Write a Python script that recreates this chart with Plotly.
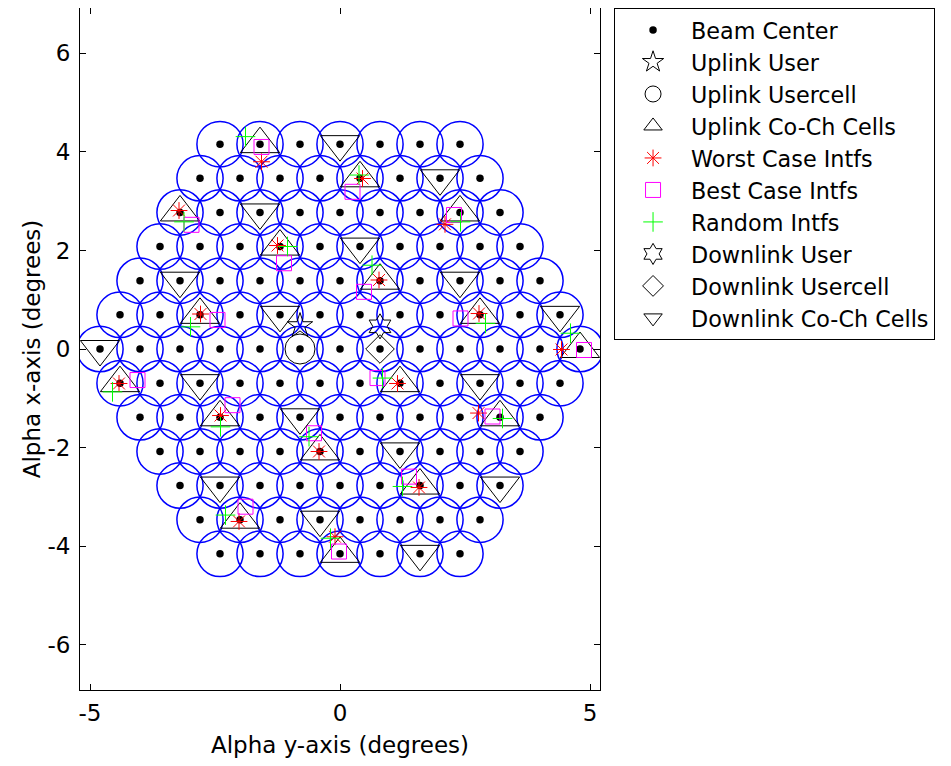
import plotly.graph_objects as go

# ---------------- data ----------------
# beam-centre rows (vertical position) and the horizontal positions in each row
beam_row_y = [4.157, 3.464, 2.771, 2.078, 1.386, 0.693, 0.0,
              -0.693, -1.386, -2.078, -2.771, -3.464, -4.157]
beam_row_x = [
    [-2.4, -1.6, -0.8, 0.0, 0.8, 1.6, 2.4],
    [-2.8, -2.0, -1.2, -0.4, 0.4, 1.2, 2.0, 2.8],
    [-3.2, -2.4, -1.6, -0.8, 0.0, 0.8, 1.6, 2.4, 3.2],
    [-3.6, -2.8, -2.0, -1.2, -0.4, 0.4, 1.2, 2.0, 2.8, 3.6],
    [-4.0, -3.2, -2.4, -1.6, -0.8, 0.0, 0.8, 1.6, 2.4, 3.2, 4.0],
    [-4.4, -3.6, -2.8, -2.0, -1.2, -0.4, 0.4, 1.2, 2.0, 2.8, 3.6, 4.4],
    [-4.8, -4.0, -3.2, -2.4, -1.6, -0.8, 0.0, 0.8, 1.6, 2.4, 3.2, 4.0, 4.8],
    [-4.4, -3.6, -2.8, -2.0, -1.2, -0.4, 0.4, 1.2, 2.0, 2.8, 3.6, 4.4],
    [-4.0, -3.2, -2.4, -1.6, -0.8, 0.0, 0.8, 1.6, 2.4, 3.2, 4.0],
    [-3.6, -2.8, -2.0, -1.2, -0.4, 0.4, 1.2, 2.0, 2.8, 3.6],
    [-3.2, -2.4, -1.6, -0.8, 0.0, 0.8, 1.6, 2.4, 3.2],
    [-2.8, -2.0, -1.2, -0.4, 0.4, 1.2, 2.0, 2.8],
    [-2.4, -1.6, -0.8, 0.0, 0.8, 1.6, 2.4],
]
beam_radius = 0.4619

x_tick_vals = [-5, 0, 5]
x_tick_text = ["-5", "0", "5"]
y_tick_vals = [-6, -4, -2, 0, 2, 4, 6]
y_tick_text = ["-6", "-4", "-2", "0", "2", "4", "6"]

uplink_user_x, uplink_user_y = [-0.8], [0.47]
uplink_cell_x, uplink_cell_y = [-0.8], [0.0]
downlink_user_x, downlink_user_y = [0.8], [0.46]
downlink_cell_x, downlink_cell_y = [0.8], [0.0]

up_cochan_x = [-1.6, 0.4, 2.4, -3.2, -1.2, 0.8, -2.8, 2.8, 4.8,
               -4.4, 1.2, -2.4, 3.2, -0.4, 1.6, -2.0, 0.0]
up_cochan_y = [4.157, 3.464, 2.771, 2.771, 2.078, 1.386, 0.693, 0.693, 0.0,
               -0.693, -0.693, -1.386, -1.386, -2.078, -2.771, -3.464, -4.157]

dn_cochan_x = [0.0, 2.0, -1.6, 0.4, -3.2, 2.4, -1.2, 4.4, -4.8,
               -2.8, 2.8, -0.8, 1.2, -2.4, 3.2, -0.4, 1.6]
dn_cochan_y = [4.157, 3.464, 2.771, 2.078, 1.386, 1.386, 0.693, 0.693, 0.0,
               -0.693, -0.693, -1.386, -2.078, -2.771, -2.771, -3.464, -4.157]

worst_x = [-1.57, 0.45, 2.10, -3.22, -1.25, 0.78, -2.79, 2.78, 4.43,
           -4.42, 1.15, -2.39, 2.77, -0.42, 1.58, -2.02, -0.10]
worst_y = [3.80, 3.46, 2.53, 2.81, 2.10, 1.40, 0.71, 0.72, -0.01,
           -0.70, -0.70, -1.35, -1.30, -2.08, -2.81, -3.50, -3.81]

best_x = [-1.57, 0.25, 2.28, -2.97, -1.12, 0.48, -2.45, 2.41, 4.88,
          -4.05, 0.75, -2.15, 3.05, -0.52, 1.38, -1.89, -0.02]
best_y = [4.10, 3.19, 2.72, 2.52, 1.74, 1.16, 0.59, 0.62, -0.02,
          -0.63, -0.59, -1.14, -1.37, -1.71, -2.59, -3.20, -4.11]

random_x = [-1.89, 0.38, 2.41, -3.12, -1.05, 0.64, -2.99, 2.91, 4.61,
            -4.55, 0.85, -2.39, 3.25, -0.62, 1.25, -2.29, -0.19]
random_y = [4.31, 3.53, 2.58, 2.58, 2.08, 1.70, 0.45, 0.52, 0.32,
            -0.87, -0.59, -1.58, -1.41, -1.78, -2.79, -3.37, -3.84]

# ---------------- figure ----------------
beam_x, beam_y = [], []
for ry, xs in zip(beam_row_y, beam_row_x):
    for bx in xs:
        beam_x.append(bx)
        beam_y.append(ry)

fig = go.Figure()

shapes = []
for bx, by in zip(beam_x, beam_y):
    shapes.append(dict(type="circle", xref="x", yref="y",
                       x0=bx - beam_radius, x1=bx + beam_radius,
                       y0=by - beam_radius, y1=by + beam_radius,
                       line=dict(color="#0000ff", width=1.5), layer="below"))


def add(name, x, y, symbol, size, color, lw=1):
    fig.add_trace(go.Scatter(
        x=x, y=y, mode="markers", name=name,
        marker=dict(symbol=symbol, size=size, color=color,
                    line=dict(color=color, width=lw)),
        hoverinfo="skip"))


add("Beam Center", beam_x, beam_y, "circle", 7.5, "black", 0)
add("Uplink User", uplink_user_x, uplink_user_y, "star-open", 19, "black")
add("Uplink Usercell", uplink_cell_x, uplink_cell_y, "circle-open", 30, "black")
add("Uplink Co-Ch Cells", up_cochan_x, up_cochan_y, "triangle-up-open", 34, "black")
add("Worst Case Intfs", worst_x, worst_y, "asterisk-open", 14, "#ff0000")
add("Best Case Intfs", best_x, best_y, "square-open", 15, "#ff00ff")
add("Random Intfs", random_x, random_y, "cross-thin-open", 14, "#00ff00")
add("Downlink User", downlink_user_x, downlink_user_y, "hexagram-open", 19, "black")
add("Downlink Usercell", downlink_cell_x, downlink_cell_y, "diamond-open", 22, "black")
add("Downlink Co-Ch Cells", dn_cochan_x, dn_cochan_y, "triangle-down-open", 34, "black")

font_family = "DejaVu Sans, Liberation Sans, Arial, sans-serif"
axis_common = dict(showline=True, linecolor="black", linewidth=1, mirror="ticks",
                   ticks="inside", ticklen=6, tickcolor="black", showgrid=False,
                   zeroline=False, tickfont=dict(size=23, color="black", family=font_family))

# the page body adds an 8px offset, so the figure is 8px smaller than the window
fig.update_layout(
    width=943, height=758,
    margin=dict(l=72, r=351, t=0, b=76),
    paper_bgcolor="white", plot_bgcolor="white",
    font=dict(family=font_family, color="black"),
    shapes=shapes,
    showlegend=True,
    legend=dict(x=1.027, y=1.0, xanchor="left", yanchor="top",
                bordercolor="black", borderwidth=1, bgcolor="white",
                font=dict(size=22.3, color="black", family=font_family),
                itemwidth=66, traceorder="normal",
                itemclick=False, itemdoubleclick=False),
    xaxis=dict(range=[-5.2, 5.2], tickvals=x_tick_vals, ticktext=x_tick_text,
               title=dict(text="Alpha y-axis (degrees)", font=dict(size=23), standoff=12),
               ticklabelstandoff=2, **axis_common),
    yaxis=dict(range=[-6.92, 6.92], tickvals=y_tick_vals, ticktext=y_tick_text,
               title=dict(text="Alpha x-axis (degrees)", font=dict(size=23), standoff=0),
               ticklabelstandoff=4, **axis_common),
)

fig.write_html("out.html")
